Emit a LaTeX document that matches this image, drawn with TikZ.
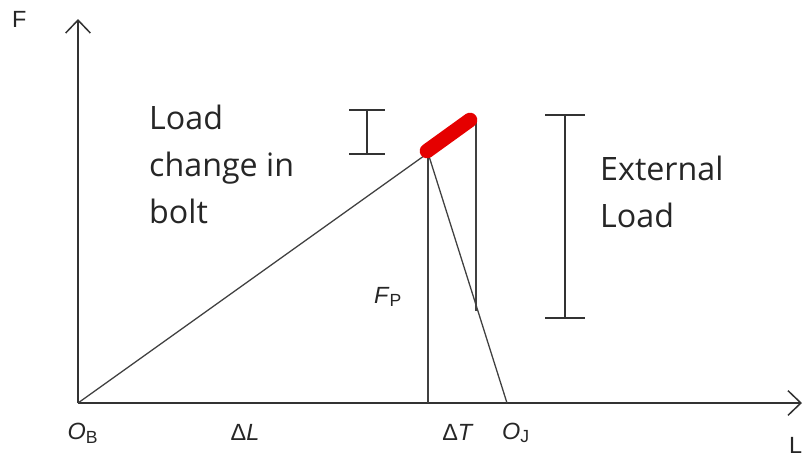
\documentclass[tikz,border=0pt]{standalone}
\usepackage{fontspec}
\setmainfont{Open Sans}
\newfontfamily\labelfont{Liberation Sans}
\usetikzlibrary{arrows.meta}
\tikzset{
      axis/.style      = {line width=1.3pt, black!80,
                          -{Straight Barb[length=11pt, width=21pt, line width=1.3pt]}},
      member/.style    = {line width=1.1pt, black!75},
      change/.style    = {line width=12.5pt, red!90!black, line cap=round},
      bar/.style       = {line width=1.3pt, black!80},
      caption/.style   = {font=\fontsize{27.5}{40}\selectfont, black!85,
                          anchor=north west, align=left, inner sep=0pt},
      symbol/.style    = {font=\labelfont\fontsize{20}{22}\selectfont, black!85, inner sep=0pt}
    }
\begin{document}
\begin{tikzpicture}[x=0.03cm, y=-0.03cm]
  \useasboundingbox (0,0) rectangle (803,463);
  % Points of the diagram
  \coordinate (OB) at (78,403);
  \coordinate (Ftip) at (78,19);
  \coordinate (Ltip) at (802,403);
  \coordinate (P) at (427,151);
  \coordinate (Q) at (470,120);
  \coordinate (Pt) at (428,153);
  \coordinate (Qt) at (476,118);
  \coordinate (PF) at (428,403);
  \coordinate (QF) at (476,311);
  \coordinate (OJ) at (507,403);
  % Axes
  \draw[axis] (OB) -- (Ftip);
  \draw[axis] (OB) -- (Ltip);
  % Bolt and joint lines
  \draw[member] (OB) -- (Pt);
  \draw[member] (Pt) -- (OJ);
  \draw[member] (Pt) -- (PF);
  \draw[member] (Qt) -- (QF);
  % Load change in bolt
  \draw[change] (P) -- (Q);
  % Bars
  \draw[bar] (349,110) -- (385,110) (367,110) -- (367,154) (349,154) -- (385,154);
  \draw[bar] (545,115) -- (585,115) (565,115) -- (565,318) (545,318) -- (585,318);
  % Captions
  \node[caption] (boltText) at (149,105) {Load\\change in\\bolt};
  \node[caption] (extText) at (600,156) {External\\Load};
  % Axis labels
  \node[symbol, anchor=north west] (Flabel) at (12,11) {F};
  \node[symbol, anchor=north west] (Llabel) at (789,437) {L};
  \node[symbol] (FPlabel) at (388,297) {\textit{F}\textsubscript{\fontsize{15}{15}\selectfont P}};
  \node[symbol] (OBlabel) at (83,433) {\textit{O}\textsubscript{\fontsize{15}{15}\selectfont B}};
  \node[symbol] (dLlabel) at (245,432) {Δ\textit{L}};
  \node[symbol] (dTlabel) at (458,432) {Δ\textit{T}};
  \node[symbol] (OJlabel) at (516,433) {\textit{O}\textsubscript{\fontsize{15}{15}\selectfont J}};
\end{tikzpicture}
\end{document}
